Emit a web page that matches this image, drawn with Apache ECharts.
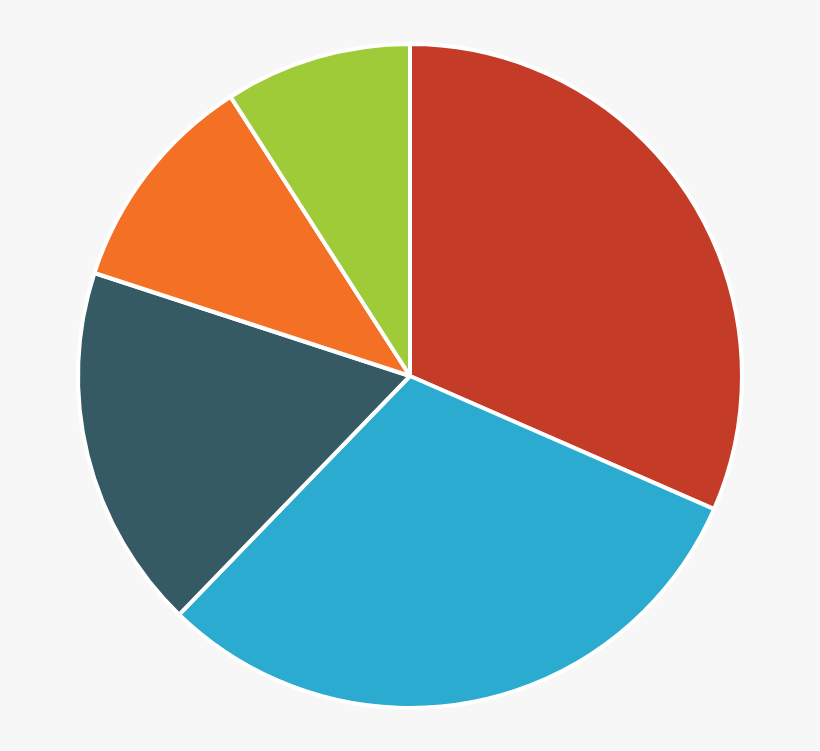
<!DOCTYPE html>
<html><head><meta charset="utf-8">
<script src="https://cdn.jsdelivr.net/npm/echarts@6/dist/echarts.min.js"></script>
<style>html,body{margin:0;padding:0;background:#f7f7f7;}#c{width:820px;height:751px;}</style>
</head><body><div id="c"></div>
<script>
const categories = ['A', 'B', 'C', 'D', 'E'];
const values = [31.6, 30.7, 17.8, 10.9, 9.1];
const colors = ['#c43b27', '#2aabcf', '#355a64', '#f37025', '#a0cb39'];
const chart = echarts.init(document.getElementById('c'));
chart.setOption({
  backgroundColor: '#f7f7f7',
  animation: false,
  series: [{
    type: 'pie',
    center: [410, 376],
    radius: [0, 332],
    startAngle: 90,
    clockwise: true,
    label: { show: false },
    labelLine: { show: false },
    itemStyle: { borderColor: '#ffffff', borderWidth: 4 },
    emphasis: { disabled: true },
    data: categories.map((c, i) => ({ name: c, value: values[i], itemStyle: { color: colors[i] } }))
  }]
});
</script></body></html>
